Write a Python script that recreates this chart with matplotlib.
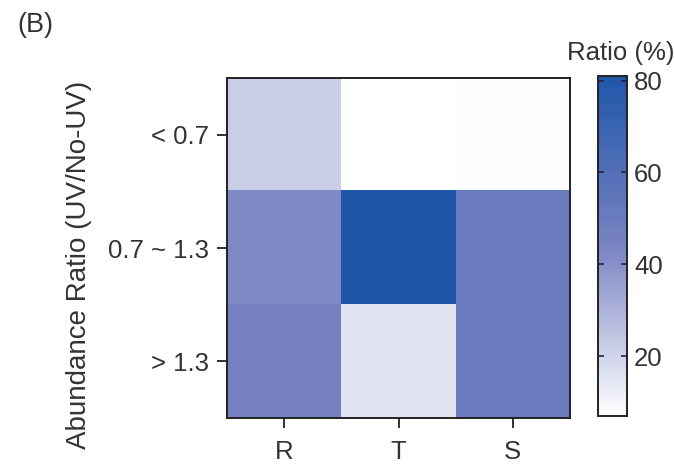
import matplotlib
matplotlib.use("Agg")
import matplotlib.pyplot as plt
import numpy as np
from matplotlib.colors import LinearSegmentedColormap

plt.rcParams['font.family'] = ['Liberation Sans', 'DejaVu Sans']

columns = ["R", "T", "S"]
rows = ["< 0.7", "0.7 ~ 1.3", "> 1.3"]
values = [
    [22, 7, 8],
    [42, 81, 50],
    [46, 15, 50],
]
cbar_ticks = [20, 40, 60, 80]

cmap = LinearSegmentedColormap.from_list(
    "bluepurple", [(0.0, "#FFFFFF"), (0.5, "#7983C2"), (1.0, "#1F56A9")])

txt = "#333333"
fig = plt.figure(figsize=(6.74, 4.65), dpi=100)
ax = fig.add_axes([227/674, 1-418/465, (570-227)/674, (418-78)/465])
data = np.array(values, dtype=float)
im = ax.imshow(data, cmap=cmap, vmin=7, vmax=81, aspect='auto', interpolation='nearest')
ax.set_xticks(range(len(columns)))
ax.set_xticklabels(columns, fontsize=18.5, color=txt)
ax.set_yticks(range(len(rows)))
ax.set_yticklabels(rows, fontsize=18.5, color=txt)
ax.tick_params(direction='out', length=7, width=1.3, color='#222222', pad=6)
ax.tick_params(axis='x', pad=9)
ax.set_ylabel("Abundance Ratio (UV/No-UV)", fontsize=20, color=txt)
ax.yaxis.set_label_coords(-0.395, 0.45)
for s in ax.spines.values():
    s.set_linewidth(1.4)
    s.set_color('#222222')

cax = fig.add_axes([598/674, 1-416/465, (627-598)/674, (416-76)/465])
cb = fig.colorbar(im, cax=cax, ticks=cbar_ticks)
cb.outline.set_linewidth(1.4)
cb.outline.set_edgecolor('#222222')
cax.tick_params(axis='y', direction='in', length=4, width=1.2, color='#222244',
                left=True, right=True, labelsize=18.5, labelcolor=txt, pad=5)
fig.text(621/674, 1-53/465, "Ratio (%)", fontsize=18.5, color=txt, ha='center', va='center')
fig.text(17/674, 1-25/465, "(B)", fontsize=19.5, color=txt, ha='left', va='center')

fig.savefig("out.png", dpi=100)
